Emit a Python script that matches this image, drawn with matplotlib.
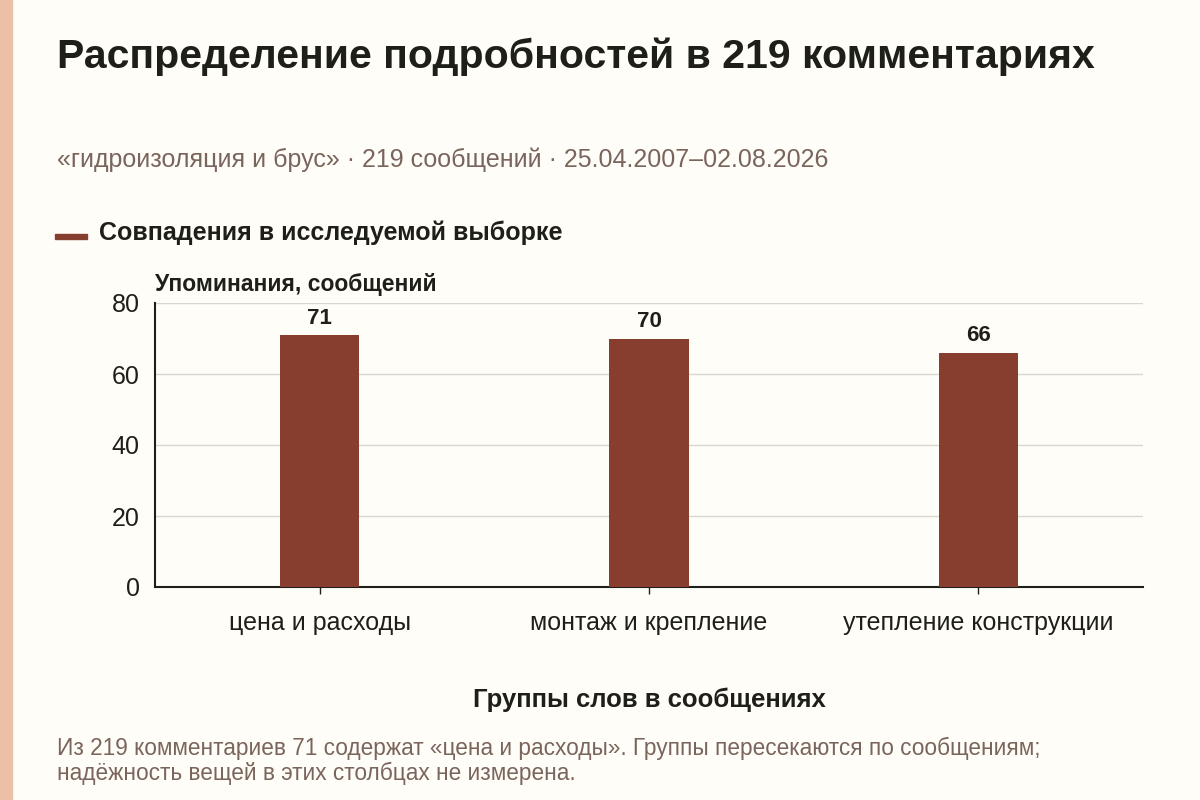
import matplotlib
matplotlib.use("Agg")
import matplotlib.pyplot as plt
from matplotlib.patches import Rectangle

categories = ["цена и расходы", "монтаж и крепление", "утепление конструкции"]
mentions = [71, 70, 66]
y_ticks = [0, 20, 40, 60, 80]

BG = "#fffdf7"
BAR = "#873e2f"
MUTED = "#7a655c"
INK = "#1f1f1a"

plt.rcParams["font.family"] = ["Liberation Sans", "DejaVu Sans"]

fig = plt.figure(figsize=(12, 8), dpi=100, facecolor=BG)
# left accent strip
fig.patches.append(Rectangle((0, 0), 12 / 1200, 1, transform=fig.transFigure,
                             color="#ecc0a6", zorder=0))

ax = fig.add_axes([155 / 1200, 1 - 587 / 800, (1143 - 155) / 1200, (587 - 303) / 800])
ax.set_facecolor(BG)
x = list(range(len(categories)))
ax.bar(x, mentions, width=0.24, color=BAR, zorder=3)
for xi, v in zip(x, mentions):
    ax.text(xi, v + 1.8, str(v), ha="center", va="bottom", fontsize=16,
            fontweight="bold", color=INK)

ax.set_xlim(-0.5, len(categories) - 0.5)
ax.set_ylim(0, 80)
ax.set_yticks(y_ticks)
ax.set_xticks(x)
ax.set_xticklabels(categories, fontsize=18, color=INK)
ax.tick_params(axis="y", length=0, labelsize=18, labelcolor=INK, pad=11)
ax.tick_params(axis="x", length=5, width=1, color=INK, pad=12)
ax.grid(axis="y", color="#d9d6cf", lw=1, zorder=0)
ax.spines[["top", "right"]].set_visible(False)
ax.spines[["left", "bottom"]].set_color(INK)
ax.spines[["left", "bottom"]].set_linewidth(1.5)

fig.text(57 / 1200, 1 - 57 / 800, "Распределение подробностей в 219 комментариях",
         fontsize=29.5, fontweight="bold", color=INK, va="center")
fig.text(57 / 1200, 1 - 160 / 800,
         "«гидроизоляция и брус» · 219 сообщений · 25.04.2007–02.08.2026",
         fontsize=18, color=MUTED, va="center")
fig.patches.append(Rectangle((55 / 1200, 1 - 239 / 800), 32 / 1200, 5 / 800,
                             transform=fig.transFigure, color=BAR))
fig.text(99 / 1200, 1 - 233 / 800, "Совпадения в исследуемой выборке",
         fontsize=18, fontweight="bold", color=INK, va="center")
fig.text(155 / 1200, 1 - 285 / 800, "Упоминания, сообщений",
         fontsize=16.5, fontweight="bold", color=INK, va="center")
fig.text(649 / 1200, 1 - 700 / 800, "Группы слов в сообщениях",
         fontsize=18.5, fontweight="bold", color=INK, va="center", ha="center")
fig.text(57 / 1200, 1 - 748 / 800,
         "Из 219 комментариев 71 содержат «цена и расходы». Группы пересекаются по сообщениям;",
         fontsize=16.25, color=MUTED, va="center")
fig.text(57 / 1200, 1 - 773 / 800, "надёжность вещей в этих столбцах не измерена.",
         fontsize=16.25, color=MUTED, va="center")

fig.savefig("out.png", dpi=100, facecolor=BG)
